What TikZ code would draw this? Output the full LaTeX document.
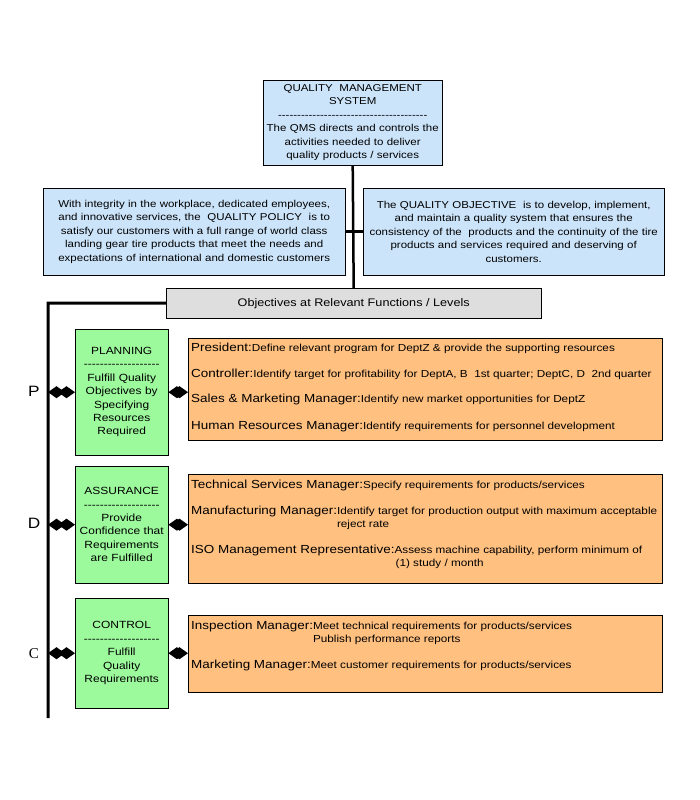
\documentclass[tikz,border=0pt]{standalone}
\usepackage{fontspec}
\setmainfont{Liberation Sans}[FakeStretch=1.15]
\newfontfamily\serifletter{Liberation Serif}
\usetikzlibrary{arrows.meta,positioning}
\definecolor{qmsblue}{HTML}{CCE4FA}
\definecolor{pdcgreen}{HTML}{9CF99C}
\definecolor{dutyorange}{HTML}{FFC080}
\definecolor{levelgray}{HTML}{DEDEDE}

\newcommand{\dashrow}[1]{\foreach \k in {1,...,#1}{-\kern0pt}}
\newcommand{\role}[1]{{\fontsize{11.7}{13}\selectfont #1}}
\newcommand{\duty}[2]{\role{#1}\begin{tabular}[t]{@{}l@{}}#2\end{tabular}}

\begin{document}
\begin{tikzpicture}[x=1pt,y=-1pt,>=Latex]
  \tikzstyle{sysbox}=[draw=black,fill=qmsblue,anchor=north west,inner sep=2pt,align=center,font=\fontsize{10}{13.5}\selectfont]
  \tikzstyle{phase}=[draw=black,fill=pdcgreen,anchor=north west,minimum width=93,text width=91,inner sep=1pt,align=center,font=\fontsize{10.4}{13.4}\selectfont]
  \tikzstyle{duties}=[draw=black,fill=dutyorange,anchor=north west,minimum width=474]
  \tikzstyle{task}=[anchor=base west,inner sep=0pt,align=left,font=\fontsize{10.2}{13}\selectfont]
  \tikzstyle{pdc}=[font=\fontsize{15}{15}\selectfont]
  \tikzstyle{link}=[line width=2.5pt,{Diamond[length=17pt,width=12pt]}-{Diamond[length=17pt,width=12pt]}]
  \useasboundingbox (0,0) rectangle (700,800);
  % top of the system
  \node[sysbox,minimum width=179,minimum height=85,text width=175] (qms) at (263,80)
    {QUALITY\ \ MANAGEMENT\\SYSTEM\\\dashrow{39}\\The QMS directs and controls the\\activities needed to deliver\\quality products / services};
  \node[sysbox,minimum width=302,minimum height=87,text width=298] (policy) at (43,188)
    {With integrity in the workplace, dedicated employees,\\and innovative services, the\ \ QUALITY POLICY\ \ is to\\satisfy our customers with a full range of world class\\landing gear tire products that meet the needs and\\expectations of international and domestic customers};
  \node[sysbox,minimum width=299,minimum height=87,text width=297] (objective) at (363,188)
    {The QUALITY OBJECTIVE\ \ is to develop, implement,\\and maintain a quality system that ensures the\\consistency of the\ \ products and the continuity of the tire\\products and services required and deserving of\\customers.};
  \node[draw=black,fill=levelgray,anchor=north west,minimum width=375,minimum height=30,font=\fontsize{11}{12}\selectfont] (levels) at (166,288)
    {Objectives at Relevant Functions / Levels};
  \draw[line width=2.5pt] (policy.east) -- (objective.west);
  \draw[line width=2.5pt] (qms.south) -- (levels.north);
  \coordinate (spinetop) at (48,303);
  \coordinate (spinebot) at (48,718);
  \draw[line width=3pt] (levels.west) -- (spinetop) -- (spinebot);

  % P - planning
  \node[phase,minimum height=126] (plan) at (75,329)
    {PLANNING\\\dashrow{19}\\Fulfill Quality\\Objectives by\\Specifying\\Resources\\Required};
  \node[duties,minimum height=102] (plando) at (188,338) {};
  \node[task] (t1) at (191,351) {\duty{President:}{Define relevant program for DeptZ \& provide the supporting resources}};
  \node[task] (t2) at (191,377) {\duty{Controller:}{Identify target for profitability for DeptA, B\ \ 1st quarter; DeptC, D\ \ 2nd quarter}};
  \node[task] (t3) at (191,402) {\duty{Sales \& Marketing Manager:}{Identify new market opportunities for DeptZ}};
  \node[task] (t4) at (191,429) {\duty{Human Resources Manager:}{Identify requirements for personnel development}};
  \node[pdc] (p) at (34,391) {P};
  \draw[link] (spinetop |- plan.west) -- (plan.west);
  \draw[link] (plan.east) -- (plando.west |- plan.east);

  % D - assurance
  \node[phase,minimum height=117] (assure) at (75,466)
    {ASSURANCE\\\dashrow{19}\\Provide\\Confidence that\\Requirements\\are Fulfilled};
  \node[duties,minimum height=109] (assuredo) at (188,474) {};
  \node[task] (t5) at (191,488) {\duty{Technical Services Manager:}{Specify requirements for products/services}};
  \node[task] (t6) at (191,514) {\duty{Manufacturing Manager:}{Identify target for production output with maximum acceptable\\reject rate}};
  \node[task] (t7) at (191,553) {\duty{ISO Management Representative:}{Assess machine capability, perform minimum of\\\hspace*{1pt}(1) study / month}};
  \node[pdc] (d) at (34,523) {D};
  \draw[link] (spinetop |- assure.west) -- (assure.west);
  \draw[link] (assure.east) -- (assuredo.west |- assure.east);

  % C - control
  \node[phase,minimum height=110] (control) at (75,598)
    {CONTROL\\\dashrow{19}\\Fulfill\\Quality\\Requirements};
  \node[duties,minimum height=77] (controldo) at (188,615) {};
  \node[task] (t8) at (191,629) {\duty{Inspection Manager:}{Meet technical requirements for products/services\\Publish performance reports}};
  \node[task] (t9) at (191,668) {\duty{Marketing Manager:}{Meet customer requirements for products/services}};
  \node[pdc] (c) at (34,654) {\serifletter C};
  \draw[link] (spinetop |- control.west) -- (control.west);
  \draw[link] (control.east) -- (controldo.west |- control.east);
\end{tikzpicture}
\end{document}
